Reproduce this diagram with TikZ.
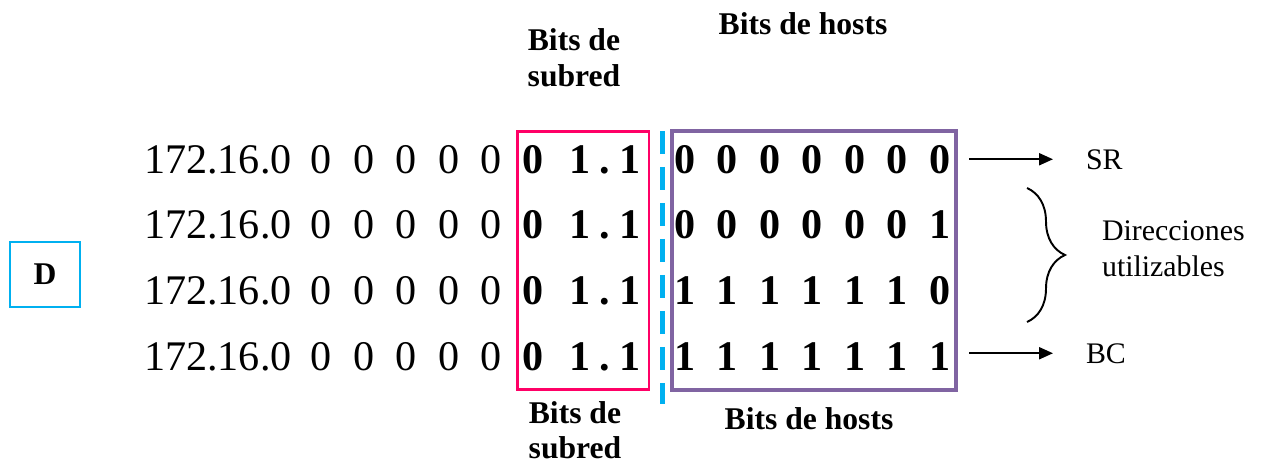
\documentclass[tikz,border=0pt]{standalone}
\usepackage{fontspec}
\setmainfont{Liberation Serif}
\usetikzlibrary{arrows.meta,decorations.pathreplacing}
\definecolor{rosa}{HTML}{FF0066}
\definecolor{morado}{HTML}{8064A2}
\definecolor{celeste}{HTML}{00B0F0}
\tikzset{
  dir_n/.style = {inner sep=0pt, anchor=base,
    font=\fontsize{24}{28}\selectfont},% direccion, parte de red
  dir_b/.style = {dir_n, font=\fontsize{24}{28}\selectfont\bfseries},% direccion, bits en negrita
  titulo/.style = {inner sep=0pt, align=center,
    font=\fontsize{18}{20}\selectfont\bfseries},% titulo de los bits
  etiq/.style = {inner sep=0pt, align=left,
    font=\fontsize{17}{20.5}\selectfont},% etiqueta a la derecha
  caja_sr/.style = {draw=rosa, line width=1.7pt,
    minimum width=2.64cm, minimum height=5.18cm},% caja, bits de subred
  caja_h/.style = {draw=morado, line width=2pt,
    minimum width=5.68cm, minimum height=5.18cm},% caja, bits de hosts
  caja_d/.style = {draw=celeste, line width=1.2pt, minimum width=1.4cm,
    minimum height=1.3cm, font=\fontsize{18}{20}\selectfont\bfseries}% caja de la letra
}
\begin{document}
\begin{tikzpicture}[x=0.02cm,y=-0.02cm,->,>={Triangle[length=0.28cm,width=0.24cm]},
  line width=1.2pt]
\useasboundingbox (0,0) rectangle (1263,463);
\node [caja_d] (d) at (45,274.5) {D};
\foreach \bits [count=\f] in {{0,0,0,0,0,0,0},{0,0,0,0,0,0,1},
                              {1,1,1,1,1,1,0},{1,1,1,1,1,1,1}}{
  \pgfmathsetmacro{\yb}{173+65.7*(\f-1)}
  \node [dir_n, anchor=base west] (ip\f) at (143,\yb) {172.16.0};
  \foreach \i in {1,...,5}
    \node [dir_n] (z\f-\i) at (279+42.4*\i,\yb) {0};
  \node [dir_b] (s\f-1) at (533,\yb) {0};
  \node [dir_b] (s\f-2) at (580,\yb) {1};
  \node [dir_b] (s\f-3) at (605,\yb) {.};
  \node [dir_b] (s\f-4) at (630,\yb) {1};
  \foreach \h [count=\c] in \bits
    \node [dir_b] (h\f-\c) at (642.5+42.5*\c,\yb) {\h};
}
\node [caja_sr] (subred) at (583,260.5) {};
\node [caja_h] (hosts) at (814,260.5) {};
\draw [-, celeste, line width=0.1cm, dash pattern=on 0.46cm off 0.26cm]
  (662,131) -- (662,404);
\node [titulo, anchor=north] (tsr) at (574,28) {Bits de\\subred};
\node [titulo, anchor=north] (th) at (803,11.5) {Bits de hosts};
\node [titulo, anchor=north] (bsr) at (575,400.5) {Bits de\\subred};
\node [titulo, anchor=north] (bh) at (809,406.5) {Bits de hosts};
\node [etiq, anchor=base west] (sr) at (1085,169) {SR};
\node [etiq, anchor=base west] (bc) at (1085,363) {BC};
\node [etiq, anchor=north west] (util) at (1101,219.5) {Direcciones\\utilizables};
\draw [shorten <=0.35cm, shorten >=0.64cm] (h1-7.east |- sr.west) -- (sr.west);
\draw [shorten <=0.35cm, shorten >=0.64cm] (h4-7.east |- bc.west) -- (bc.west);
\draw [-, line width=1.1pt, decorate, decoration={brace, amplitude=0.76cm}]
  (1027,188) -- (1027,322);
\end{tikzpicture}
\end{document}
